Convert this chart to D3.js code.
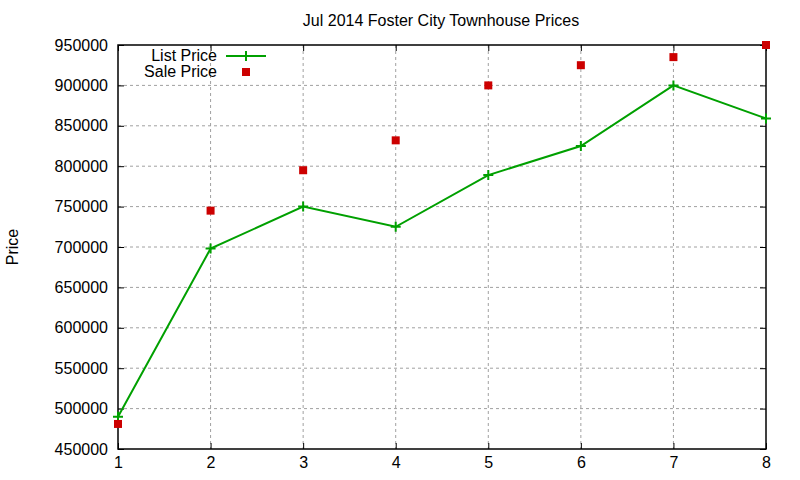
<!DOCTYPE html>
<html>
<head>
<meta charset="utf-8">
<script src="https://cdn.jsdelivr.net/npm/d3@7"></script>
<style>
  body { margin: 0; background: #fff; }
  text { font-family: "Liberation Sans", Arial, sans-serif; fill: #000; }
</style>
</head>
<body>
<div id="chart"></div>
<script>
// Dados
const months = [1, 2, 3, 4, 5, 6, 7, 8];
const listPrice = [490000, 698000, 750000, 725000, 789000, 825000, 900000, 859000];
const salePrice = [481000, 745000, 795000, 832000, 900000, 925000, 935000, 950000];
const yTicks = [450000, 500000, 550000, 600000, 650000, 700000, 750000, 800000, 850000, 900000, 950000];

const W = 800, H = 480;
const margin = { top: 45, right: 34, bottom: 31, left: 118 };
const width = W - margin.left - margin.right;
const height = H - margin.top - margin.bottom;
const fontSize = '16px';

const svg = d3.select('#chart').append('svg')
  .attr('width', W).attr('height', H);

const g = svg.append('g')
  .attr('transform', `translate(${margin.left},${margin.top})`);

const x = d3.scaleLinear().domain([1, 8]).range([0, width]);
const y = d3.scaleLinear().domain([450000, 950000]).range([height, 0]);

// Grade
g.append('g').selectAll('line')
  .data(months.slice(1, -1))
  .join('line')
  .attr('x1', d => x(d)).attr('x2', d => x(d))
  .attr('y1', 0).attr('y2', height)
  .attr('stroke', '#a0a0a0').attr('stroke-dasharray', '3,3');

g.append('g').selectAll('line')
  .data(yTicks.slice(1, -1))
  .join('line')
  .attr('x1', 0).attr('x2', width)
  .attr('y1', d => y(d)).attr('y2', d => y(d))
  .attr('stroke', '#a0a0a0').attr('stroke-dasharray', '3,3');

// Eixos (ticks para dentro, espelhados)
const axisStyle = sel => {
  sel.select('.domain').remove();
  sel.selectAll('line').attr('stroke', '#000');
  sel.selectAll('text').style('font-size', fontSize)
    .style('font-family', '"Liberation Sans", Arial, sans-serif');
};

g.append('g')
  .attr('transform', `translate(0,${height})`)
  .call(d3.axisBottom(x).tickValues(months).tickSize(-6).tickPadding(8).tickFormat(d3.format('d')))
  .call(axisStyle);

g.append('g')
  .call(d3.axisTop(x).tickValues(months).tickSize(-6).tickFormat(''))
  .call(axisStyle);

g.append('g')
  .call(d3.axisLeft(y).tickValues(yTicks).tickSize(-6).tickPadding(10).tickFormat(d3.format('d')))
  .call(axisStyle);

g.append('g')
  .attr('transform', `translate(${width},0)`)
  .call(d3.axisRight(y).tickValues(yTicks).tickSize(-6).tickFormat(''))
  .call(axisStyle);

g.append('rect')
  .attr('width', width).attr('height', height)
  .attr('fill', 'none').attr('stroke', '#000').attr('stroke-width', 1.5);

// Séries
const listData = months.map((m, i) => ({ m, v: listPrice[i] }));
const saleData = months.map((m, i) => ({ m, v: salePrice[i] }));

const green = '#00a000';
const red = '#cc0000';

g.append('path')
  .datum(listData)
  .attr('fill', 'none')
  .attr('stroke', green)
  .attr('stroke-width', 2)
  .attr('d', d3.line().x(d => x(d.m)).y(d => y(d.v)));

g.append('g').selectAll('path')
  .data(listData)
  .join('path')
  .attr('transform', d => `translate(${x(d.m)},${y(d.v)})`)
  .attr('d', 'M-5,0H5M0,-5V5')
  .attr('stroke', green).attr('stroke-width', 2);

g.append('g').selectAll('rect')
  .data(saleData)
  .join('rect')
  .attr('x', d => x(d.m) - 4).attr('y', d => y(d.v) - 4)
  .attr('width', 8).attr('height', 8)
  .attr('fill', red);

// Legenda
const legend = svg.append('g');
legend.append('text')
  .attr('x', 217).attr('y', 61)
  .attr('text-anchor', 'end').style('font-size', fontSize)
  .text('List Price');
legend.append('line')
  .attr('x1', 226).attr('x2', 266).attr('y1', 56).attr('y2', 56)
  .attr('stroke', green).attr('stroke-width', 2);
legend.append('path')
  .attr('transform', 'translate(246,56)')
  .attr('d', 'M-5,0H5M0,-5V5')
  .attr('stroke', green).attr('stroke-width', 2);
legend.append('text')
  .attr('x', 217).attr('y', 77)
  .attr('text-anchor', 'end').style('font-size', fontSize)
  .text('Sale Price');
legend.append('rect')
  .attr('x', 242).attr('y', 68).attr('width', 8).attr('height', 8)
  .attr('fill', red);

// Título e rótulo
svg.append('text')
  .attr('x', 441).attr('y', 26)
  .attr('text-anchor', 'middle').style('font-size', fontSize)
  .text('Jul 2014 Foster City Townhouse Prices');

svg.append('text')
  .attr('transform', `translate(18,${margin.top + height / 2}) rotate(-90)`)
  .attr('text-anchor', 'middle').style('font-size', fontSize)
  .text('Price');
</script>
</body>
</html>
